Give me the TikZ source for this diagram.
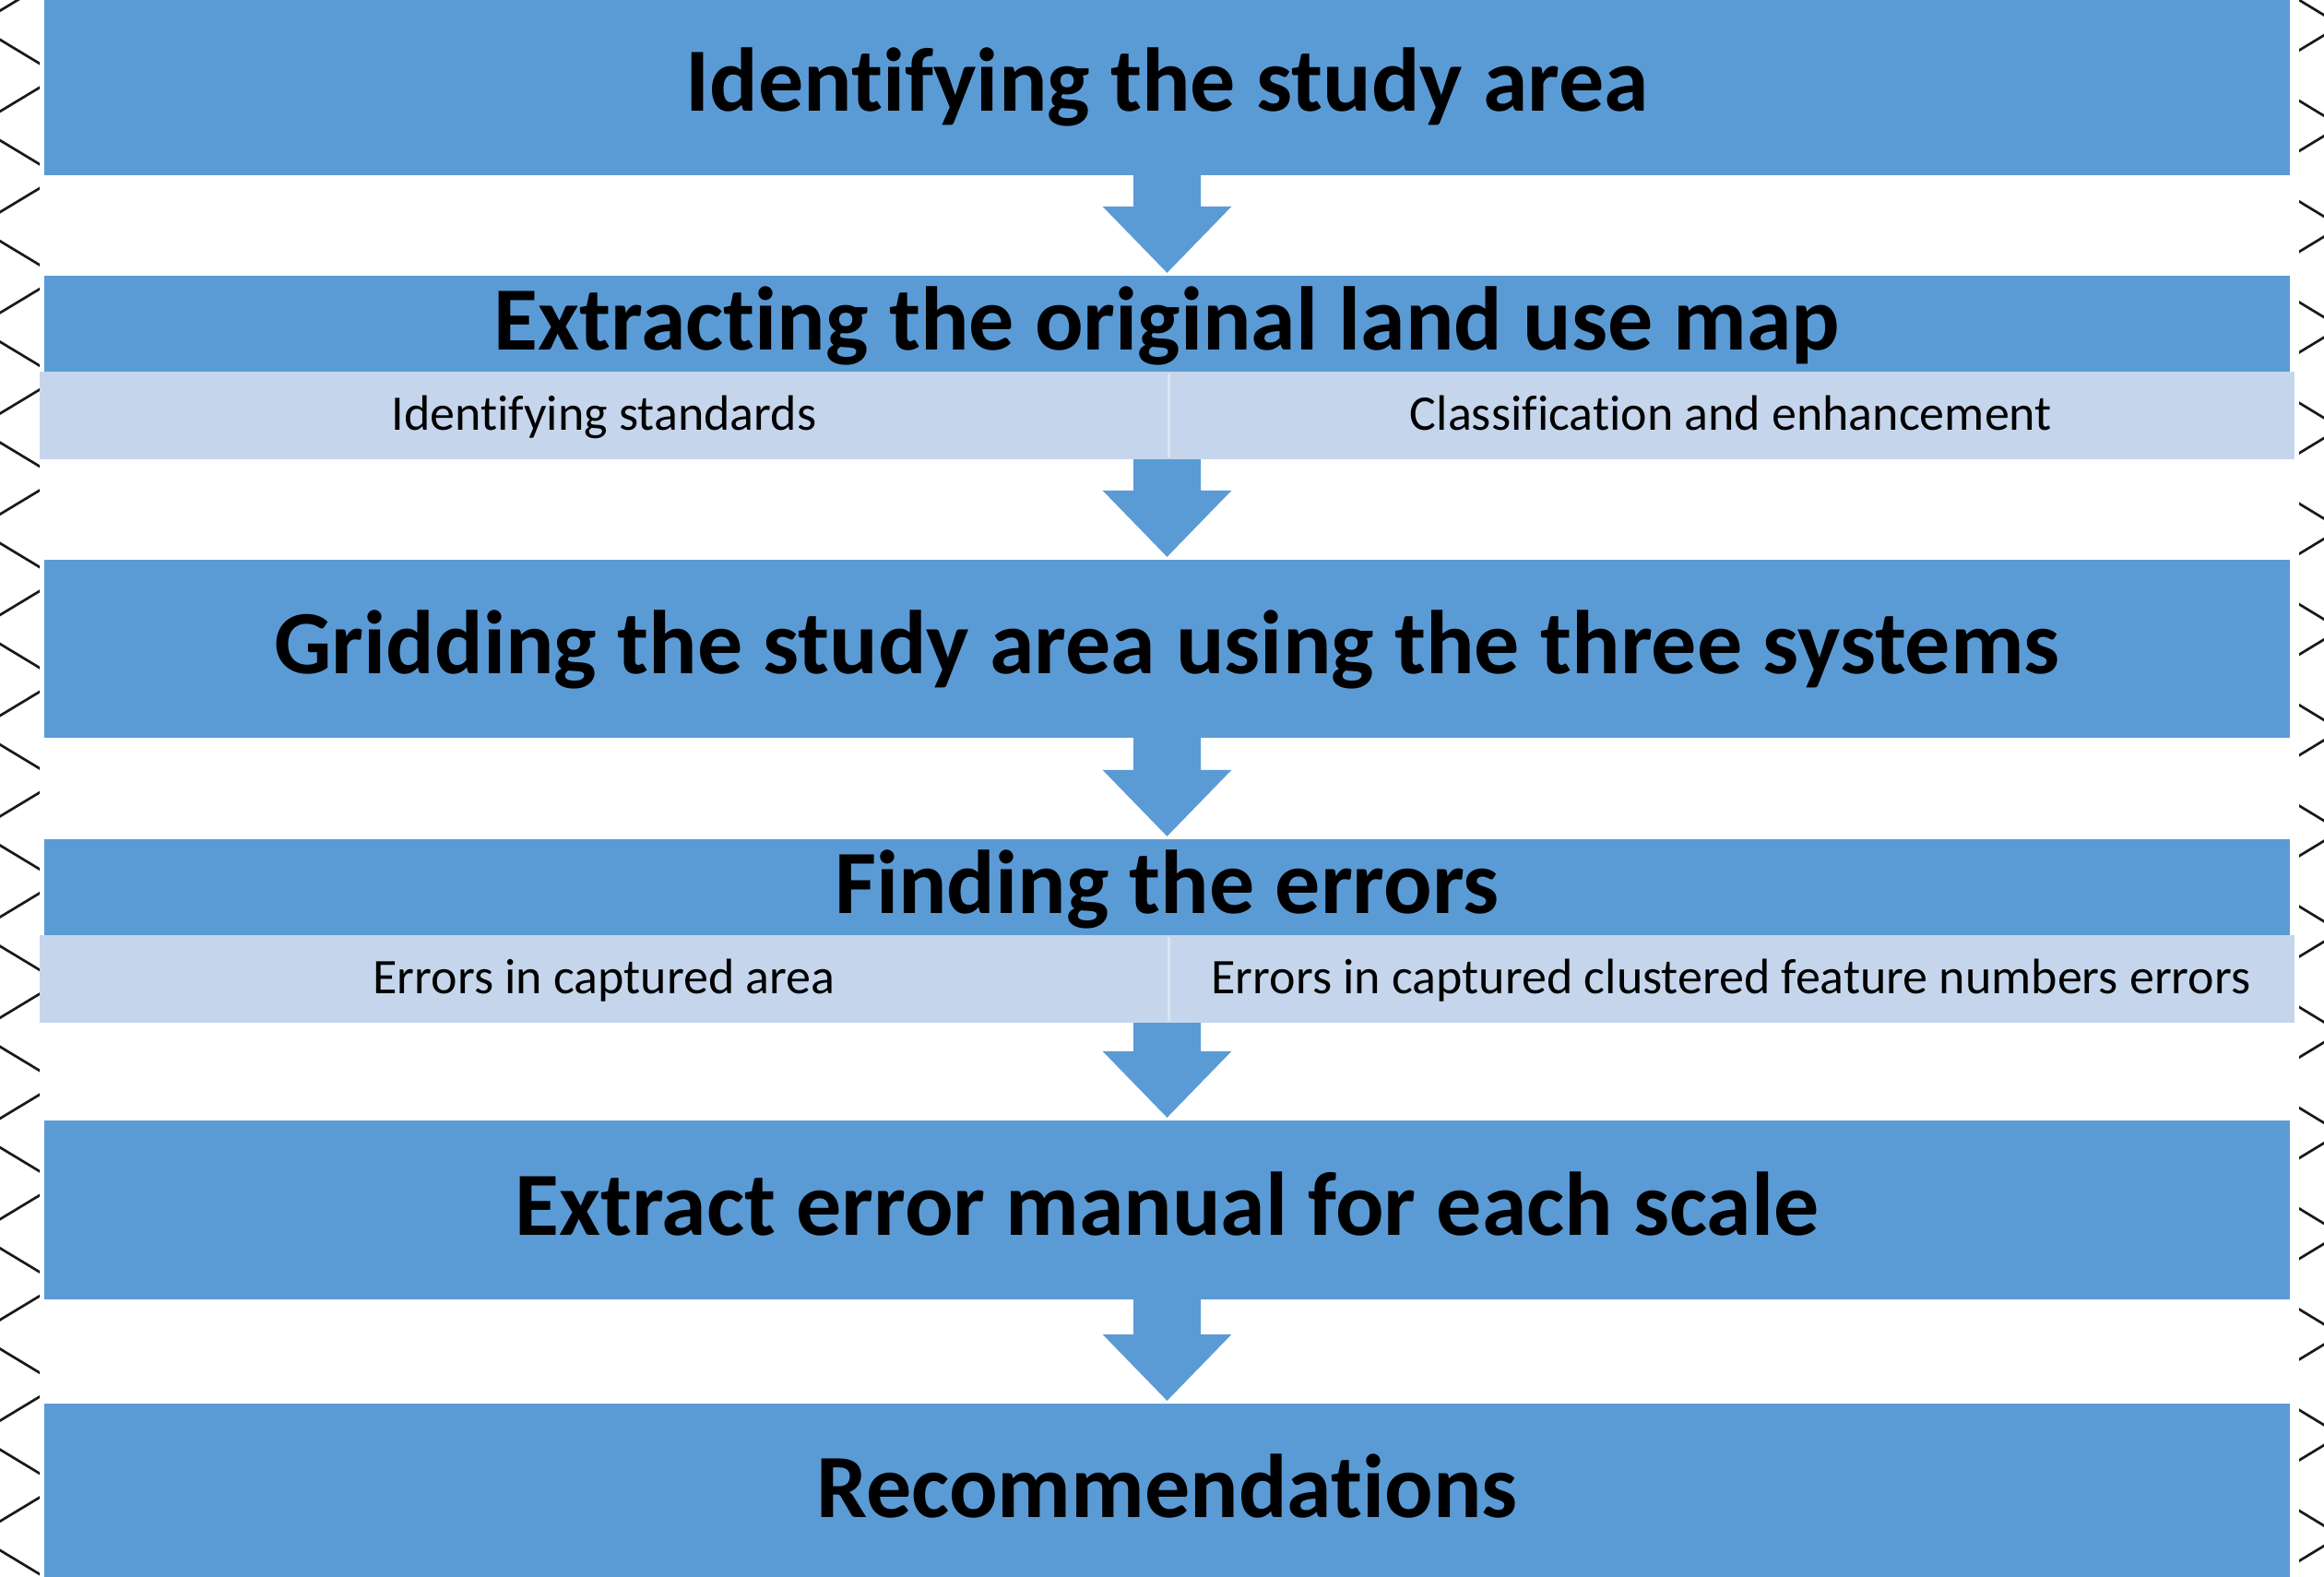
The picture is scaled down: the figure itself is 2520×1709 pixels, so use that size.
\documentclass[tikz,border=0pt]{standalone}
\usepackage{fontspec}
\setmainfont{Carlito}[Ligatures={NoCommon}]
\usetikzlibrary{calc}
\definecolor{mainblue}{HTML}{5B9BD5}
\definecolor{lightblue}{HTML}{C5D6EC}
\definecolor{divcol}{HTML}{DCE6F3}
\newcommand\flowarr[2]{%
  \fill[mainblue] ($(#1.south)+(-36.5,0)$) -- ($(#2.north)+(-36.5,-75)$) -- ($(#2.north)+(-70,-75)$)
    -- ($(#2.north)+(0,-3)$) -- ($(#2.north)+(70,-75)$) -- ($(#2.north)+(36.5,-75)$)
    -- ($(#1.south)+(36.5,0)$) -- cycle;}
\begin{document}
\begin{tikzpicture}[x=1pt,y=-1pt,
  titlebox/.style={fill=mainblue, inner sep=0pt, minimum width=2435pt, text height=80pt, text depth=26pt,
    font=\fontsize{98}{108}\selectfont\bfseries, text=black},
  subrow/.style={fill=lightblue, inner sep=0pt, minimum width=2445pt, minimum height=95pt},
  subtext/.style={inner sep=0pt, text height=40pt, text depth=9pt, font=\fontsize{54}{60}\selectfont, text=black},
  divider/.style={draw=divcol, line width=3pt},
  zig/.style={draw=black!90, line width=2.7pt}]
\clip (0,0) rectangle (2520,1709);
\fill[white] (0,0) rectangle (2520,1709);

% zigzag borders
\begin{scope}
  \clip (0,-20) rectangle (43,1730);
  \foreach \k in {-1,...,16} {
    \draw[zig] (-26,{27.3+109.2*\k}) -- (64.5,{81.9+109.2*\k}) -- (-26,{136.5+109.2*\k});
  }
\end{scope}
\begin{scope}
  \clip (2493,-20) rectangle (2520,1730);
  \foreach \k in {-1,...,16} {
    \draw[zig] (2538,{27.3+109.2*\k}) -- (2448,{81.9+109.2*\k}) -- (2538,{136.5+109.2*\k});
  }
\end{scope}

% boxes
\node[titlebox, minimum height=193pt] (b1) at (1265.5,93.5) {Identifying the study area};
\node[titlebox, minimum height=102pt] (b2) at (1265.5,352) {Extracting the original land use map};
\node[subrow] (r2) at (1265.5,450.5) {};
\draw[divider] ($(r2.north)+(1.5,2)$) -- ($(r2.south)+(1.5,-2)$);
\node[subtext] (t2a) at (655,450.5) {Identifying standards};
\node[subtext] (t2b) at (1877,450.5) {Classification and enhancement};

\node[titlebox, minimum height=193pt] (b3) at (1265.5,703.5) {Gridding the study area using the three systems};

\node[titlebox, minimum height=102pt] (b4) at (1265.5,963) {Finding the errors};
\node[subrow] (r4) at (1265.5,1061.5) {};
\draw[divider] ($(r4.north)+(1.5,2)$) -- ($(r4.south)+(1.5,-2)$);
\node[subtext] (t4a) at (655,1061.5) {Errors in captured area};
\node[subtext] (t4b) at (1877,1061.5) {Errors in captured clustered feature numbers errors};

\node[titlebox, minimum height=194pt] (b5) at (1265.5,1312) {Extract error manual for each scale};
\node[titlebox, minimum height=193pt] (b6) at (1265.5,1618.5) {Recommendations};

% arrows
\flowarr{b1}{b2}
\flowarr{r2}{b3}
\flowarr{b3}{b4}
\flowarr{r4}{b5}
\flowarr{b5}{b6}
\end{tikzpicture}
\end{document}
